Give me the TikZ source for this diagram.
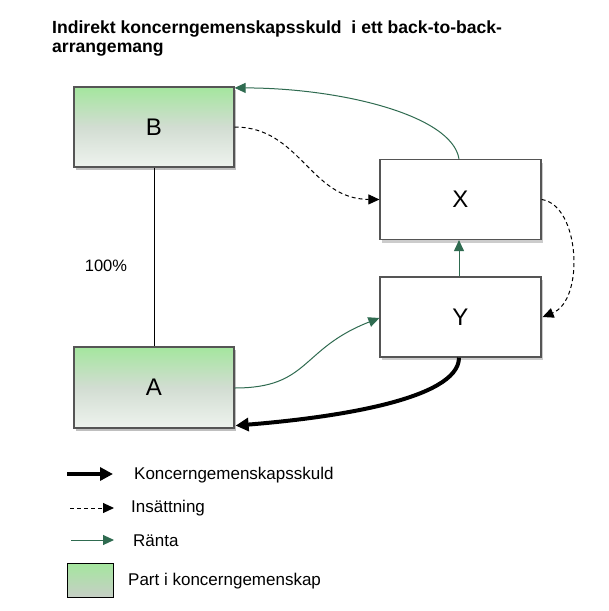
\documentclass[tikz,border=0pt]{standalone}
\usepackage{fontspec}
\setmainfont{Liberation Sans}
\usetikzlibrary{arrows.meta,shadows}
\definecolor{rgreen}{HTML}{2F6B50}
\definecolor{gtop}{HTML}{A4E69E}
\definecolor{gmid}{HTML}{D2DDD2}
\definecolor{gbot}{HTML}{EEF3EE}
\definecolor{bordergray}{HTML}{555555}
\tikzset{
  x=1pt, y=-1pt,
  partbox/.style={draw=bordergray, line width=1.2pt, inner sep=0pt,
    minimum width=160pt, minimum height=80pt,
    top color=gtop, bottom color=gbot, middle color=gmid,
    font=\fontsize{24}{26}\selectfont,
    drop shadow={shadow xshift=2pt, shadow yshift=-3pt, opacity=0.25, fill=black}},
  plainbox/.style={draw=bordergray, line width=1.2pt, inner sep=0pt, fill=white,
    minimum width=161pt, minimum height=80pt,
    font=\fontsize{24}{26}\selectfont,
    drop shadow={shadow xshift=2pt, shadow yshift=-3pt, opacity=0.2, fill=black}},
  debt/.style={line width=4pt, -{Triangle[length=13pt,width=13pt]}},
  deposit/.style={line width=1pt, dash pattern=on 4pt off 3pt,
    -{Triangle[length=11pt,width=10pt]}},
  interest/.style={line width=1pt, draw=rgreen,
    -{Triangle[length=11pt,width=10pt,fill=rgreen]}},
  legtext/.style={anchor=west, inner sep=0pt, font=\fontsize{17}{20}\selectfont},
  titletext/.style={anchor=north west, inner sep=0pt, align=left,
    font=\fontsize{17.6}{19}\selectfont\bfseries}
}
\begin{document}
\begin{tikzpicture}
\useasboundingbox (0,0) rectangle (609,611);
\fill[white] (0,0) rectangle (609,611);

% title
\node[titletext] (title) at (52,21) {Indirekt koncerngemenskapsskuld\ \ i ett back-to-back-\\arrangemang};

% boxes
\node[partbox] (B) at (154,127) {B};
\node[partbox, minimum height=81pt] (A) at (154,387.5) {A};
\node[plainbox] (X) at (460.5,199.5) {X};
\node[plainbox] (Y) at (460.5,317) {Y};

% ownership line
\draw[line width=1pt] (B.south) -- (A.north);
\node[anchor=center, inner sep=0pt, font=\fontsize{16.5}{20}\selectfont] (pct) at (106,266) {100\%};

% connectors
\draw[interest] ([xshift=-1.5pt]X.north) .. controls (452,115) and (340,88) .. ([yshift=-1.5pt]B.north east);
\draw[deposit] (B.east) .. controls (300,127) and (310,199) .. (X.west);
\draw[deposit] (X.east) .. controls (580,205) and (585,300) .. ([xshift=1pt]Y.east);
\draw[interest] ([xshift=-1.5pt]Y.north) -- ([xshift=-1.5pt]X.south);
\draw[interest] ([yshift=-0.5pt]A.east) .. controls (310,388) and (300,349) .. ([yshift=-1pt]Y.west);
\draw[debt] ([xshift=-1.5pt]Y.south) .. controls (459,400) and (330,418) .. ([xshift=1pt,yshift=3pt]A.south east);

% legend
\coordinate (l1a) at (67,474);
\coordinate (l1b) at (113,474);
\draw[debt] (l1a) -- (l1b);
\node[legtext] (t1) at (134,475) {Koncerngemenskapsskuld};

\coordinate (l2a) at (70,508);
\coordinate (l2b) at (114,508);
\draw[deposit] (l2a) -- (l2b);
\node[legtext] (t2) at (131,508) {Insättning};

\coordinate (l3a) at (71,540);
\coordinate (l3b) at (114,540);
\draw[interest] (l3a) -- (l3b);
\node[legtext] (t3) at (133,541) {Ränta};

\node[draw=black, line width=1pt, inner sep=0pt, minimum width=46pt, minimum height=34pt,
  top color=gtop, bottom color=gmid!85!gray] (lbox) at (90,580) {};
\node[legtext] (t4) at (128,581) {Part i koncerngemenskap};
\end{tikzpicture}
\end{document}
